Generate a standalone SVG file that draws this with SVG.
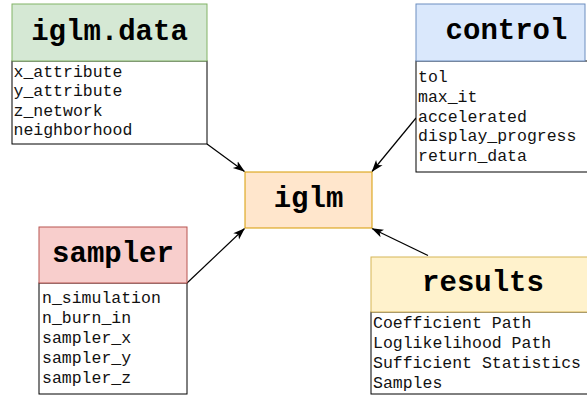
<svg xmlns="http://www.w3.org/2000/svg" width="587" height="396" viewBox="0 0 587 396">
<defs>
<style>
.title{font-family:"Liberation Mono","Courier New",monospace;font-weight:bold;font-size:29px;fill:#000;text-anchor:middle}
.item{font-family:"Liberation Mono","Courier New",monospace;font-size:16.5px;fill:#111}
.body{fill:#fff;stroke:#000;stroke-width:1}
.edge{fill:none;stroke:#000;stroke-width:1.2}
</style>
<marker id="arr" viewBox="0 0 12 10" refX="11.5" refY="5" markerWidth="12" markerHeight="10" markerUnits="userSpaceOnUse" orient="auto">
<path d="M0,0.8 L12,5 L0,9.2 L3,5 Z" fill="#000"/>
</marker>
</defs>
<rect width="587" height="396" fill="#fff"/>

<g id="connectors">
<line class="edge" x1="207" y1="144" x2="244.5" y2="171.5" marker-end="url(#arr)"/>
<line class="edge" x1="416" y1="118" x2="372" y2="171.5" marker-end="url(#arr)"/>
<line class="edge" x1="187" y1="283" x2="244.5" y2="228.5" marker-end="url(#arr)"/>
<line class="edge" x1="428" y1="255.5" x2="372" y2="228.5" marker-end="url(#arr)"/>
</g>

<g id="iglm-data">
<rect class="body" x="12" y="61" width="195" height="83"/>
<rect x="12" y="4" width="195" height="57" fill="#d5e8d4" stroke="#82b366"/>
<text class="title" x="109.5" y="39.5">iglm.data</text>
<text class="item" x="13.5" y="76.5">x_attribute</text>
<text class="item" x="13.5" y="96">y_attribute</text>
<text class="item" x="13.5" y="115.5">z_network</text>
<text class="item" x="13.5" y="135">neighborhood</text>
</g>

<g id="control">
<rect class="body" x="416" y="61" width="180" height="111"/>
<rect x="416" y="4" width="169" height="57" fill="#dae8fc" stroke="#6c8ebf"/>
<text class="title" x="506.5" y="38.5">control</text>
<text class="item" x="418" y="82">tol</text>
<text class="item" x="418" y="101.8">max_it</text>
<text class="item" x="418" y="121.6">accelerated</text>
<text class="item" x="418" y="141.4">display_progress</text>
<text class="item" x="418" y="161.2">return_data</text>
</g>

<g id="iglm">
<rect x="245" y="172" width="127" height="56" fill="#ffe6cc" stroke="#d79b00"/>
<text class="title" x="308.5" y="207">iglm</text>
</g>

<g id="sampler">
<rect class="body" x="39" y="283" width="148" height="111"/>
<rect x="39" y="227" width="148" height="56" fill="#f8cecc" stroke="#b85450"/>
<text class="title" x="113" y="261.5">sampler</text>
<text class="item" x="42" y="302.7">n_simulation</text>
<text class="item" x="42" y="322.7">n_burn_in</text>
<text class="item" x="42" y="342.7">sampler_x</text>
<text class="item" x="42" y="362.7">sampler_y</text>
<text class="item" x="42" y="382.7">sampler_z</text>
</g>

<g id="results">
<rect class="body" x="371" y="312" width="230" height="82"/>
<rect x="371" y="257" width="230" height="55" fill="#fff2cc" stroke="#d6b656"/>
<text class="title" x="483" y="290.5">results</text>
<text class="item" x="373" y="327.7">Coefficient Path</text>
<text class="item" x="373" y="347.7">Loglikelihood Path</text>
<text class="item" x="373" y="367.7">Sufficient Statistics</text>
<text class="item" x="373" y="387.7">Samples</text>
</g>
</svg>
